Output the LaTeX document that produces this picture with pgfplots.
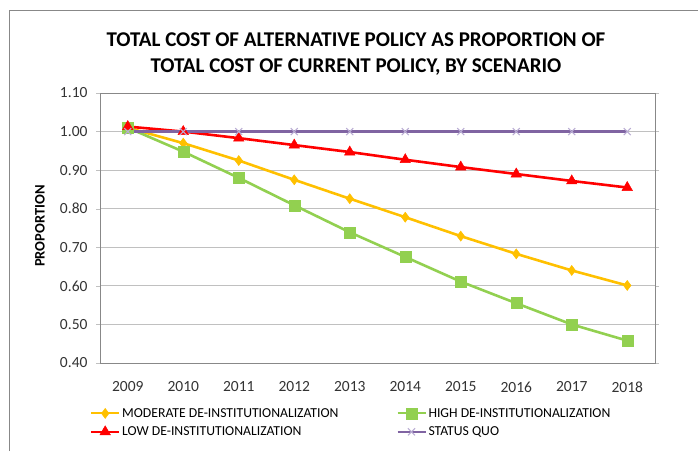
\documentclass[border=0pt]{standalone}
\usepackage{pgfplots}
\pgfplotsset{compat=1.18}
\usepackage{fontspec}
\setmainfont{Carlito}

\definecolor{modc}{HTML}{FFC000}
\definecolor{highc}{HTML}{92D050}
\definecolor{lowc}{HTML}{FF0000}
\definecolor{sqc}{HTML}{8064A2}
\definecolor{sqm}{HTML}{B9ACD3}
\definecolor{gridc}{HTML}{C0C0C0}
\definecolor{framec}{HTML}{888888}

\begin{document}
\begin{tikzpicture}[x=1pt,y=1pt]
\useasboundingbox (0,0) rectangle (698,-451);
\draw[framec, line width=1pt] (9,-451) -- (9,-10) -- (698,-10);
\node[font=\fontsize{21}{26}\selectfont\bfseries, align=center] at (356,-54)
  {TOTAL COST OF ALTERNATIVE POLICY AS PROPORTION OF\\TOTAL COST OF CURRENT POLICY, BY SCENARIO};
\node[rotate=90, font=\fontsize{14.5}{16}\selectfont\bfseries] at (40,-226) {PROPORTION};
\begin{axis}[
    at={(100pt,-363pt)}, anchor=south west,
    scale only axis,
    width=555pt, height=270pt,
    xmin=-0.5, xmax=9.5,
    ymin=0.4, ymax=1.1,
    xtick={0,...,9},
    xticklabels={2009,2010,2011,2012,2013,2014,2015,2016,2017,2018},
    ytick={0.4,0.5,0.6,0.7,0.8,0.9,1.0,1.1},
    yticklabel style={/pgf/number format/.cd, fixed, fixed zerofill, precision=2, assume math mode=true},
    ticklabel style={font=\fontsize{15.5}{18}\selectfont, text=black!80},
    xtick style={draw=none},
    ytick style={draw=gridc},
    tick align=outside,
    major tick length=4pt,
    xticklabel shift=11pt,
    yticklabel shift=5pt,
    ymajorgrids=true,
    grid style={gridc, line width=0.9pt},
    axis line style={framec, line width=0.9pt},
    every axis plot/.append style={line width=2.6pt},
    legend columns=2,
    legend cell align=left,
    legend style={draw=none, fill=none, at={(-13pt,-41pt)}, anchor=north west,
        font=\fontsize{13.7}{15}\selectfont, row sep=4pt,
        /tikz/every even column/.append style={column sep=56pt}},
    legend image code/.code={
        \draw[#1, line width=2pt, mark repeat=2, mark phase=2]
        plot coordinates {(0pt,0pt) (14pt,0pt) (28pt,0pt)};},
]
\addplot[color=modc, mark=diamond*, mark size=5pt, mark options={solid, fill=modc, line width=0.5pt}]
    coordinates {(0,1.01)(1,0.97)(2,0.925)(3,0.875)(4,0.826)(5,0.778)(6,0.729)(7,0.683)(8,0.640)(9,0.601)};
\addlegendentry{MODERATE DE-INSTITUTIONALIZATION}
\addplot[color=highc, mark=square*, mark size=5.5pt, mark options={solid, fill=highc, line width=0.5pt}]
    coordinates {(0,1.01)(1,0.948)(2,0.880)(3,0.809)(4,0.739)(5,0.675)(6,0.611)(7,0.555)(8,0.500)(9,0.458)};
\addlegendentry{HIGH DE-INSTITUTIONALIZATION}
\addplot[color=lowc, mark=triangle*, mark size=6pt, mark options={solid, fill=lowc, line width=0.5pt}]
    coordinates {(0,1.013)(1,1.000)(2,0.983)(3,0.965)(4,0.947)(5,0.927)(6,0.908)(7,0.890)(8,0.872)(9,0.855)};
\addlegendentry{LOW DE-INSTITUTIONALIZATION}
\addplot[color=sqc, mark=x, mark size=5pt, mark options={solid, draw=sqm, line width=1pt}]
    coordinates {(0,1.0)(1,1.0)(2,1.0)(3,1.0)(4,1.0)(5,1.0)(6,1.0)(7,1.0)(8,1.0)(9,1.0)};
\addlegendentry{STATUS QUO}
\end{axis}
\end{tikzpicture}
\end{document}
